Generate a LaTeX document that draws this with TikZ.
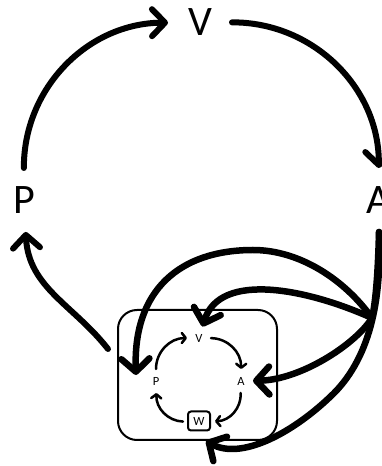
\documentclass[tikz,border=0pt]{standalone}
\usepackage{fontspec}
\setmainfont{Carlito}
\usetikzlibrary{arrows.meta}
\begin{document}
\begin{tikzpicture}[x=1pt,y=1pt,
  biglabel/.style={circle,minimum size=64pt,inner sep=0pt,outer sep=0pt,font=\fontsize{42}{42}\selectfont},
  smalllabel/.style={circle,minimum size=24pt,inner sep=0pt,outer sep=0pt,font=\fontsize{12.5}{12.5}\selectfont},
  wbox/.style={draw,line width=2pt,rounded corners=3pt,minimum width=22pt,minimum height=19pt,inner sep=0pt,outer sep=5pt,font=\fontsize{12.5}{12.5}\selectfont},
  framebox/.style={draw,line width=2pt,rounded corners=19pt,minimum width=159pt,minimum height=130pt,inner sep=0pt},
  bigarrow/.style={line width=6pt,line cap=round,line join=round,-{Straight Barb[length=13pt,width=27pt,round]}},
  thickcurve/.style={line width=6.5pt,line cap=round,line join=round,-{Straight Barb[length=13pt,width=28pt,round]}},
  smallarrow/.style={line width=2.5pt,line cap=round,-{Straight Barb[length=4pt,width=10pt,round]}}]
\useasboundingbox (0,0) rectangle (381,466);
% outer cycle
\node[biglabel] (P) at (24,266) {P};
\node[biglabel] (V) at (200,443.5) {V};
\node[biglabel] (A) at (379,266) {A};
% frame with inner cycle
\node[framebox] (box) at (197.5,91) {};
\node[smalllabel] (iV) at (199,128) {V};
\node[smalllabel] (iP) at (156,85) {P};
\node[smalllabel] (iA) at (241,85) {A};
\node[wbox] (iW) at (199,45) {W};
% helper coordinates
\coordinate (bout) at (108,117);
\coordinate (C) at (372,148);
\coordinate (pin) at (136,91);
\coordinate (wtip) at (206,25);
% outer arrows
\draw[bigarrow] (P) to[bend left=45] (V);
\draw[bigarrow] (V) to[bend left=45] (A);
\draw[bigarrow] (bout) to[out=128,in=-87] (P);
% inner arrows
\draw[smallarrow] (iP) to[bend left=45] (iV);
\draw[smallarrow] (iV) to[bend left=45] (iA);
\draw[smallarrow] (iA) to[bend left=45] (iW);
\draw[smallarrow] (iW) to[bend left=45] (iP);
% curves from A into the frame
\draw[thickcurve] (A.south) .. controls (378,196) and (376,166) .. (C)
  .. controls (355,121) and (300,86) .. (iA);
\draw[thickcurve] (C) .. controls (345,186) and (300,216) .. (253,216)
  .. controls (180,216) and (133,176) .. (pin);
\draw[thickcurve] (C) .. controls (310,176) and (220,196) .. (iV);
\draw[thickcurve] (A.south) .. controls (382,166) and (370,106) .. (330,69)
  .. controls (290,31) and (240,6) .. (wtip);
\end{tikzpicture}
\end{document}
